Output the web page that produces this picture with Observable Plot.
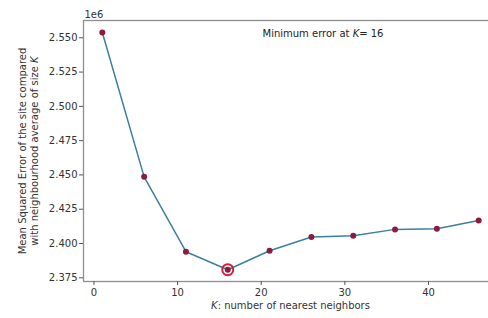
<!DOCTYPE html>
<html>
<head>
<meta charset="utf-8">
<script src="https://cdn.jsdelivr.net/npm/d3@7"></script>
<script src="https://cdn.jsdelivr.net/npm/@observablehq/plot@0.6"></script>
<style>
  html, body { margin: 0; padding: 0; background: #fff; }
  #chart { width: 488px; height: 318px; overflow: hidden; }
  #chart svg { overflow: hidden; }
</style>
</head>
<body>
<div id="chart"></div>
<script>
// Data
const kValues = [1, 6, 11, 16, 21, 26, 31, 36, 41, 46];
const mseValues = [2553900, 2448600, 2394000, 2380900, 2394700, 2404800, 2405700, 2410300, 2410800, 2416700];
const xTicks = [0, 10, 20, 30, 40];
const yTicks = [2375000, 2400000, 2425000, 2450000, 2475000, 2500000, 2525000, 2550000];
const xDomain = [-1.25, 48.25];
const yDomain = [2372300, 2562600];
const titleText = "Minimum error at K= 16";
const xLabel = "K: number of nearest neighbors";
const yLabel1 = "Mean Squared Error of the site compared";
const yLabel2 = "with neighbourhood average of size K";
const offsetText = "1e6";

const data = kValues.map((k, i) => ({k, mse: mseValues[i]}));
const minIdx = d3.minIndex(mseValues);
const minPoint = [data[minIdx]];

const font = "DejaVu Sans, sans-serif";
const plot = Plot.plot({
  width: 488,
  height: 318,
  marginLeft: 83,
  marginRight: -9,
  marginTop: 20,
  marginBottom: 37,
  style: {fontFamily: font, fontSize: "10px", color: "#333", background: "#fff", overflow: "hidden"},
  x: {domain: xDomain},
  y: {domain: yDomain},
  marks: [
    Plot.frame({stroke: "#8f8f8f", strokeWidth: 1.3}),
    Plot.axisX({ticks: xTicks, tickSize: 4, tickPadding: 3, label: null, fontSize: 10, stroke: "#555"}),
    Plot.axisY({ticks: yTicks, tickSize: 4, tickPadding: 2, label: null, fontSize: 10, stroke: "#555",
      tickFormat: d => (d / 1e6).toFixed(3)}),
    Plot.line(data, {x: "k", y: "mse", stroke: "#3b7fa3", strokeWidth: 1.5}),
    Plot.dot(data, {x: "k", y: "mse", r: 3, fill: "#8c1c3e", stroke: "none"}),
    Plot.dot(minPoint, {x: "k", y: "mse", r: 5.5, fill: "none", stroke: "#d2213a", strokeWidth: 2}),
    Plot.text([titleText], {frameAnchor: "top-left", dx: 179, dy: 13, lineAnchor: "middle", textAnchor: "start", fontSize: 10, fill: "#222"}),
    Plot.text([offsetText], {frameAnchor: "top-left", dx: 1, dy: -3, lineAnchor: "bottom", textAnchor: "start", fontSize: 10, fill: "#333"}),
    Plot.text([xLabel], {frameAnchor: "bottom", dy: 27, fontSize: 10, fill: "#333"}),
    Plot.text([yLabel1], {frameAnchor: "left", dx: -61, rotate: -90, textAnchor: "middle", lineAnchor: "middle", fontSize: 10, fill: "#333"}),
    Plot.text([yLabel2], {frameAnchor: "left", dx: -49, rotate: -90, textAnchor: "middle", lineAnchor: "middle", fontSize: 10, fill: "#333"})
  ]
});
document.getElementById("chart").appendChild(plot);

// Italicise the variable K in labels
d3.select(plot).selectAll("text").each(function () {
  const el = this;
  if (el.querySelector("tspan")) return;
  const t = el.textContent;
  if (!t.includes("K")) return;
  el.textContent = "";
  const parts = t.split("K");
  parts.forEach((p, i) => {
    if (p) el.appendChild(document.createTextNode(p));
    if (i < parts.length - 1) {
      const ts = document.createElementNS("http://www.w3.org/2000/svg", "tspan");
      ts.setAttribute("font-style", "italic");
      ts.textContent = "K";
      el.appendChild(ts);
    }
  });
});
</script>
</body>
</html>
